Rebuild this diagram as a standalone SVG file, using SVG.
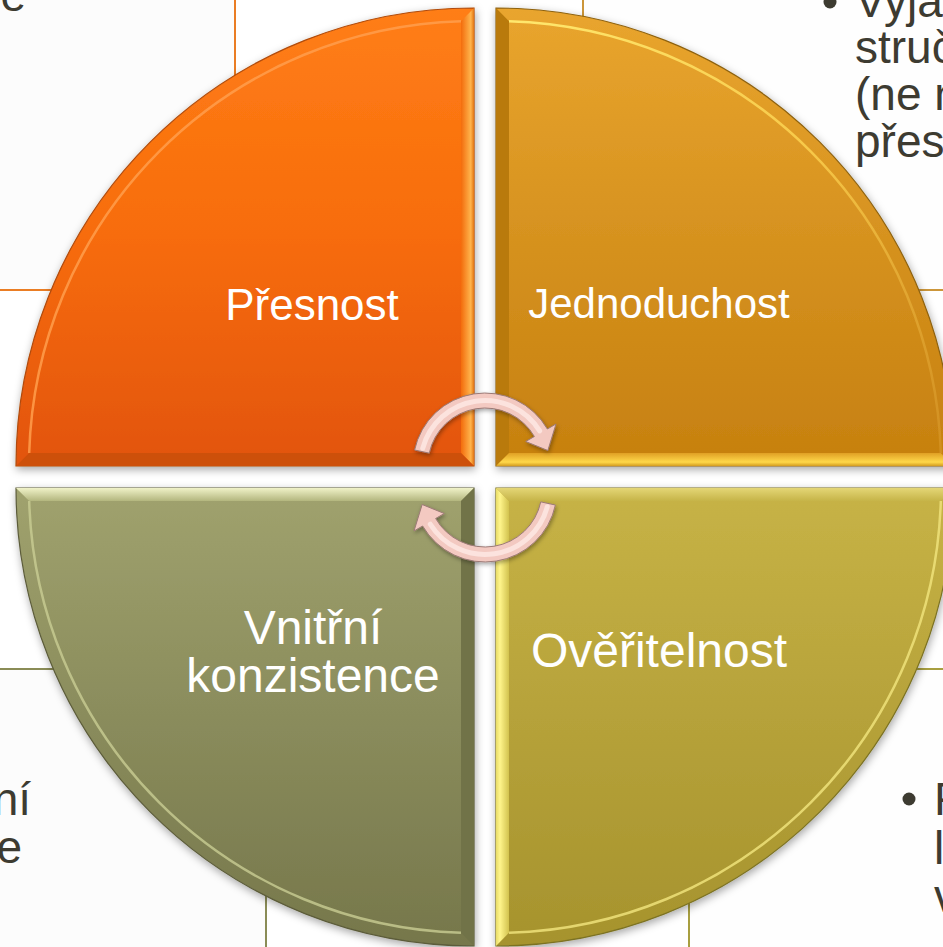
<svg xmlns="http://www.w3.org/2000/svg" width="943" height="947" viewBox="0 0 943 947">
<style>
.bg{font-family:"Liberation Sans",Arial,sans-serif;font-size:46px;fill:#3d3b31}
.lbl{font-family:"Liberation Sans",Arial,sans-serif;fill:#ffffff;text-anchor:middle}
.hl{fill:none;stroke-width:2.5}
.arrow{fill:#f3c9c1;stroke:#9c7a76;stroke-width:1}
.ahl{fill:none;stroke:#fde8e3;stroke-width:5;stroke-linecap:round;opacity:.85}
.box{stroke-width:2;fill:none}
</style>
<defs>
<filter id="sh" x="-10%" y="-10%" width="125%" height="125%">
<feDropShadow dx="1" dy="3" stdDeviation="4" flood-color="#000" flood-opacity=".35"/>
</filter>
<filter id="ash" x="-20%" y="-20%" width="140%" height="140%">
<feDropShadow dx="1" dy="2" stdDeviation="2" flood-color="#000" flood-opacity=".35"/>
</filter>
<linearGradient id="gTL" gradientUnits="userSpaceOnUse" x1="0" y1="8" x2="0" y2="466">
<stop offset="0" stop-color="#ff7e16"/><stop offset=".5" stop-color="#f76c0c"/><stop offset="1" stop-color="#e2540a"/>
</linearGradient>
<linearGradient id="gTR" gradientUnits="userSpaceOnUse" x1="0" y1="8" x2="0" y2="466">
<stop offset="0" stop-color="#e9a52e"/><stop offset=".5" stop-color="#d6921f"/><stop offset="1" stop-color="#c6800f"/>
</linearGradient>
<linearGradient id="gBL" gradientUnits="userSpaceOnUse" x1="0" y1="488" x2="0" y2="946">
<stop offset="0" stop-color="#a0a26e"/><stop offset=".5" stop-color="#8a8c5c"/><stop offset="1" stop-color="#76774b"/>
</linearGradient>
<linearGradient id="gBR" gradientUnits="userSpaceOnUse" x1="0" y1="488" x2="0" y2="946">
<stop offset="0" stop-color="#c7b346"/><stop offset=".5" stop-color="#b6a23a"/><stop offset="1" stop-color="#a6932d"/>
</linearGradient>
<linearGradient id="bTLr" gradientUnits="userSpaceOnUse" x1="461" y1="0" x2="474" y2="0">
<stop offset="0" stop-color="#f36c0c"/><stop offset=".75" stop-color="#ffb44c"/><stop offset="1" stop-color="#e27412"/>
</linearGradient>
<linearGradient id="bTRb" gradientUnits="userSpaceOnUse" x1="0" y1="453" x2="0" y2="466">
<stop offset="0" stop-color="#e0a024"/><stop offset=".7" stop-color="#ffd84a"/><stop offset="1" stop-color="#d49c20"/>
</linearGradient>
<linearGradient id="bBLt" gradientUnits="userSpaceOnUse" x1="0" y1="488" x2="0" y2="501">
<stop offset="0" stop-color="#f0f2c8"/><stop offset="1" stop-color="#b3b67e"/>
</linearGradient>
<linearGradient id="bBRl" gradientUnits="userSpaceOnUse" x1="496" y1="0" x2="509" y2="0">
<stop offset="0" stop-color="#e8dc66"/><stop offset=".3" stop-color="#fff58c"/><stop offset="1" stop-color="#d2c24e"/>
</linearGradient>
<linearGradient id="bBRt" gradientUnits="userSpaceOnUse" x1="0" y1="488" x2="0" y2="501">
<stop offset="0" stop-color="#e4d676"/><stop offset="1" stop-color="#c6b448"/>
</linearGradient>
<linearGradient id="hTR" gradientUnits="userSpaceOnUse" x1="509" y1="21" x2="940" y2="453">
<stop offset="0" stop-color="#ffe86e"/><stop offset=".5" stop-color="#f7c848"/><stop offset="1" stop-color="#d8982a" stop-opacity=".6"/>
</linearGradient>
</defs>

<rect width="943" height="947" fill="#ffffff"/>

<g id="background-boxes">
<rect x="0" y="0" width="235" height="290" fill="#fcfcfc"/>
<rect x="583" y="0" width="360" height="290" fill="#fefefe"/>
<rect x="0" y="669" width="266" height="278" fill="#fcfcfc"/>
<rect x="689" y="669" width="254" height="278" fill="#fefefe"/>
<path class="box" d="M235,0 V290 H0" stroke="#ea7d24"/>
<path class="box" d="M583,0 V290 H943" stroke="#cc963a"/>
<path class="box" d="M0,669 H266 V947" stroke="#8a8c56"/>
<path class="box" d="M943,669 H689 V947" stroke="#a89f40"/>
<text class="bg" x="26" y="11" text-anchor="end">e</text>
<circle cx="830" cy="2" r="6.5" fill="#3d3b31"/>
<text class="bg" x="855" y="17">Vyjádření</text>
<text class="bg" x="855" y="63">stručné</text>
<text class="bg" x="855" y="110">(ne nutně</text>
<text class="bg" x="855" y="157">přesné</text>
<text class="bg" x="31" y="815" text-anchor="end">ní</text>
<text class="bg" x="22" y="863" text-anchor="end">e</text>
<circle cx="909" cy="799" r="6.5" fill="#3d3b31"/>
<text class="bg" x="934" y="815">F</text>
<text class="bg" x="934" y="864">lze</text>
<text class="bg" x="934" y="912">v</text>
</g>

<g id="q-presnost">
<path d="M474,466 L16,466 A458,458 0 0 1 474,8 Z" fill="url(#gTL)" stroke="#b04a08" stroke-width="1.2" filter="url(#sh)"/>
<path d="M474,8 L474,466 L461,453 L461,21.19 Z" fill="url(#bTLr)"/>
<path d="M16,466 L474,466 L461,453 L29.19,453 Z" fill="#cd500a"/>
<path class="hl" d="M29.19,453 A445,445 0 0 1 461,21.19" stroke="#ff9e4c" opacity=".85"/>
<text class="lbl" x="312" y="320" font-size="44">Přesnost</text>
</g>

<g id="q-jednoduchost">
<path d="M496,466 L496,8 A458,458 0 0 1 954,466 Z" fill="url(#gTR)" stroke="#8e6210" stroke-width="1.2" filter="url(#sh)"/>
<path d="M496,8 L509,21.19 L509,453 L496,466 Z" fill="#b97a0c"/>
<path d="M496,466 L954,466 L940.81,453 L509,453 Z" fill="url(#bTRb)"/>
<path class="hl" d="M509,21.19 A445,445 0 0 1 940.81,453" stroke="url(#hTR)"/>
<text class="lbl" x="659" y="318" font-size="42">Jednoduchost</text>
</g>

<g id="q-overitelnost">
<path d="M496,488 L954,488 A458,458 0 0 1 496,946 Z" fill="url(#gBR)" stroke="#7c7222" stroke-width="1.2" filter="url(#sh)"/>
<path d="M496,488 L509,501 L509,932.81 L496,946 Z" fill="url(#bBRl)"/>
<path d="M496,488 L954,488 L940.81,501 L509,501 Z" fill="url(#bBRt)"/>
<path class="hl" d="M940.81,501 A445,445 0 0 1 509,932.81" stroke="#efe27a" opacity=".85"/>
<text class="lbl" x="659" y="667" font-size="48">Ověřitelnost</text>
</g>

<g id="q-vnitrni-konzistence">
<path d="M474,488 L474,946 A458,458 0 0 1 16,488 Z" fill="url(#gBL)" stroke="#5c5c3a" stroke-width="1.2" filter="url(#sh)"/>
<path d="M16,488 L474,488 L461,501 L29.19,501 Z" fill="url(#bBLt)"/>
<path d="M474,488 L474,946 L461,932.81 L461,501 Z" fill="#717348"/>
<path class="hl" d="M461,932.81 A445,445 0 0 1 29.19,501" stroke="#c9cd94" opacity=".8"/>
<text class="lbl" x="313" y="644" font-size="48">Vnitřní</text>
<text class="lbl" x="313" y="692" font-size="48">konzistence</text>
</g>

<g id="connectors">
<g filter="url(#ash)">
<path class="arrow" d="M414.6,450 A72,72 0 0 1 547.35,429 L556,424 L547.85,450.5 L525.7,441.5 L534.36,436.5 A57,57 0 0 0 429.25,453.15 Z"/>
<path class="arrow" d="M555.4,505 A72,72 0 0 1 422.65,526 L414,531 L422.15,504.5 L444.3,513.5 L435.64,518.5 A57,57 0 0 0 540.75,501.85 Z"/>
</g>
<path class="ahl" d="M422.7,448.3 A64.5,64.5 0 0 1 539.7,430.8"/>
<path class="ahl" d="M547.3,506.7 A64.5,64.5 0 0 1 430.3,524.2"/>
</g>
</svg>
